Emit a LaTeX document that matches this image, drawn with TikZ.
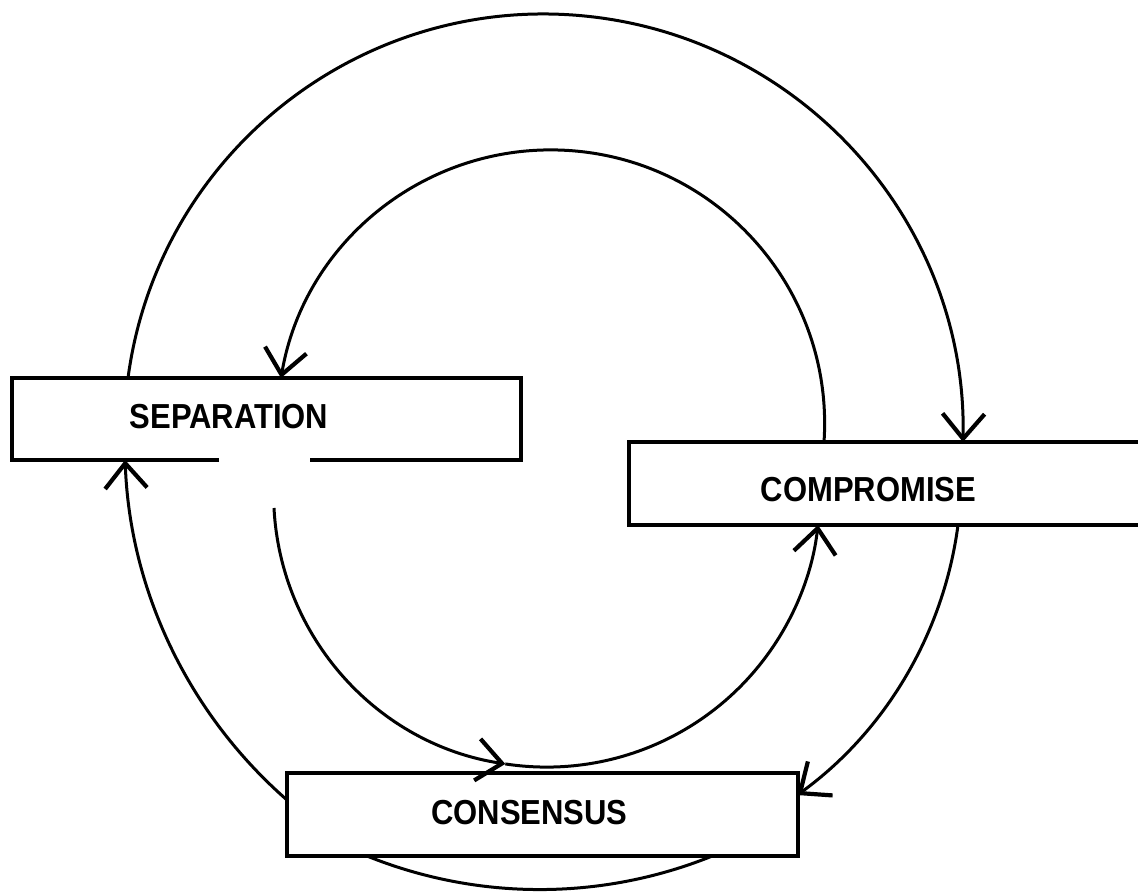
\documentclass[tikz,border=0pt]{standalone}
\usepackage{graphicx}
\usepackage{fontspec}
\setmainfont{Liberation Sans}
\usetikzlibrary{arrows.meta,calc}
\begin{document}
\begin{tikzpicture}[x=1pt,y=1pt,
  boxline/.style={line width=3.5pt},
  conn/.style={line width=3pt},
  arr/.style={conn,-{Straight Barb[length=25pt,width=42pt,line width=4.2pt]}},
  lbl/.style={font=\fontsize{31}{31}\selectfont\bfseries,inner sep=0pt},
  box/.style={rectangle,inner sep=0pt,outer sep=0pt}]
\useasboundingbox (0,0) rectangle (1138,892);
\clip (0,0) rectangle (1138,892);
\fill[white] (0,0) rectangle (1138,892);

% boxes
\node[box,minimum width=509pt,minimum height=82pt] (sep) at (266.5,473) {};
\node[box,draw,boxline,minimum width=531pt,minimum height=83pt] (comp) at (894.5,408.5) {};
\node[box,draw,boxline,minimum width=511pt,minimum height=83pt] (cons) at (542.5,77.5) {};
\draw[boxline] ($(sep.south west)+(207,0)$) -- (sep.south west) -- (sep.north west)
  -- (sep.north east) -- (sep.south east) -- ($(sep.south west)+(298,0)$);

% labels
\node[lbl] (septext) at (229,475) {\scalebox{1}[1.12]{SEPARATION}};
\node[lbl] (comptext) at (868.5,402) {\scalebox{1}[1.12]{COMPROMISE}};
\node[lbl] (constext) at (529.5,79) {\scalebox{1}[1.12]{CONSENSUS}};

% connectors
\draw[arr] ($(sep.north west)+(116,0)$) arc[start angle=172.41,end angle=-1.18,radius=419.4pt];
\draw[arr] ($(comp.north west)+(195,0)$) arc[start angle=-3.85,end angle=170.41,radius=273.72pt];
\coordinate (lowstart) at ($(sep.south west)+(262,-48)$);
\draw[arr] (lowstart) arc[start angle=182.93,end angle=261.28,radius=273.06pt] coordinate (lowmid);
\draw[arr] (lowmid) arc[start angle=261.28,end angle=353.49,radius=273.06pt];
\draw[arr] ($(comp.south west)+(329,0)$) arc[start angle=-7.5,end angle=-54,radius=398pt];
\draw[arr] ($(cons.south west)+(0,56)$) arc[start angle=228.84,end angle=182.08,radius=474.5pt];
\draw[conn] ($(cons.south west)+(80,0)$) arc[start angle=248,end angle=292,radius=460.9pt];
\end{tikzpicture}
\end{document}
